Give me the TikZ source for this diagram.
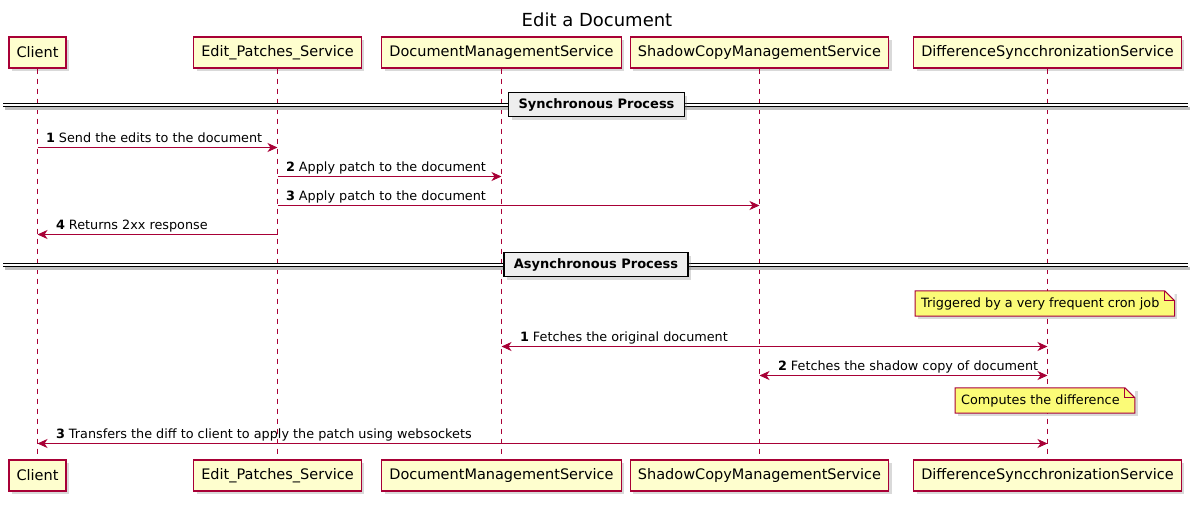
\documentclass[tikz,border=0pt]{standalone}
\usepackage{fontspec}
\setmainfont{DejaVu Sans}
\usetikzlibrary{arrows.meta,positioning,calc,shadows}

\begin{document}
\begin{tikzpicture}[
            x=1pt,y=-1pt,
            >={Stealth[length=10pt,width=9pt,inset=3pt]},
            participant/.style={draw=umlRed,fill=umlYellow,line width=1.2pt,inner xsep=7.5pt,
                minimum height=31pt,font=\fontsize{14.5}{16}\selectfont,
                drop shadow={shadow xshift=3pt,shadow yshift=-3pt,opacity=0.3}},
            lifeline/.style={draw=umlRed,dash pattern=on 5pt off 5pt,line width=1pt},
            msg/.style={umlRed,line width=1pt},
            msglabel/.style={font=\fontsize{12.8}{15}\selectfont,text=black,anchor=base west,
                inner sep=0pt,pos=0,yshift=5pt},
            sepline/.style={double,double distance=2pt,line width=1pt},
            sepshadow/.style={black!25,line width=2.5pt},
            sepbox/.style={draw,fill=sepGray,line width=1.6pt,inner xsep=10pt,minimum height=24pt,
                font=\fontsize{13}{15}\selectfont\bfseries,
                drop shadow={shadow xshift=3pt,shadow yshift=-3pt,opacity=0.3}},
            notebox/.style={fill=noteYellow,inner xsep=6pt,inner ysep=0pt,minimum height=25pt,
                font=\fontsize{12.8}{15}\selectfont,anchor=west,
                drop shadow={shadow xshift=3pt,shadow yshift=-3pt,opacity=0.3}},
            noteline/.style={umlRed,line width=1pt}
        ]

        % Define colors
        \definecolor{umlRed}{HTML}{A80036};
        \definecolor{umlYellow}{HTML}{FEFECE};
        \definecolor{noteYellow}{HTML}{FBFB77};
        \definecolor{sepGray}{HTML}{EEEEEE};

        \useasboundingbox (0,0) rectangle (1200,509);

        % Title
        \node[font=\fontsize{18}{20}\selectfont] (title) at (597,20) {Edit a Document};

        % Participants (top and bottom)
        \node[participant] (clientTop) at (37.5,52.5) {Client};
        \node[participant] (editTop) at (277.5,52.5) {Edit\_Patches\_Service};
        \node[participant] (docTop) at (501.5,52.5) {DocumentManagementService};
        \node[participant] (shadowTop) at (759.5,52.5) {ShadowCopyManagementService};
        \node[participant] (diffTop) at (1047.5,52.5) {DifferenceSyncchronizationService};

        \node[participant] (clientBot) at (37.5,475.5) {Client};
        \node[participant] (editBot) at (277.5,475.5) {Edit\_Patches\_Service};
        \node[participant] (docBot) at (501.5,475.5) {DocumentManagementService};
        \node[participant] (shadowBot) at (759.5,475.5) {ShadowCopyManagementService};
        \node[participant] (diffBot) at (1047.5,475.5) {DifferenceSyncchronizationService};

        % Draw lifelines
        \draw[lifeline] (clientTop) -- (clientBot);
        \draw[lifeline] (editTop) -- (editBot);
        \draw[lifeline] (docTop) -- (docBot);
        \draw[lifeline] (shadowTop) -- (shadowBot);
        \draw[lifeline] (diffTop) -- (diffBot);

        % Separators
        \coordinate (leftEdge) at (3,0);
        \coordinate (rightEdge) at (1188,0);
        \coordinate (syncY) at (0,105);
        \coordinate (asyncY) at (0,265);

        \draw[sepshadow] ($(leftEdge |- syncY)+(2,3.5)$) -- ($(rightEdge |- syncY)+(2,3.5)$);
        \draw[sepline] (leftEdge |- syncY) -- (rightEdge |- syncY);
        \node[sepbox] (syncSep) at (596.5,104.5) {Synchronous Process};

        \draw[sepshadow] ($(leftEdge |- asyncY)+(2,3.5)$) -- ($(rightEdge |- asyncY)+(2,3.5)$);
        \draw[sepline] (leftEdge |- asyncY) -- (rightEdge |- asyncY);
        \node[sepbox] (asyncSep) at (596,264.5) {Asynchronous Process};

        % Message rows
        \coordinate (m1) at (0,147.5);
        \coordinate (m2) at (0,176.5);
        \coordinate (m3) at (0,205.5);
        \coordinate (m4) at (0,234.5);
        \coordinate (a1) at (0,346.5);
        \coordinate (a2) at (0,375.5);
        \coordinate (a3) at (0,443.5);

        % Synchronous messages
        \draw[msg,->] (clientTop |- m1) -- (editTop |- m1)
            node[msglabel,xshift=8pt] {\textbf{1} Send the edits to the document};
        \draw[msg,->] (editTop |- m2) -- (docTop |- m2)
            node[msglabel,xshift=8pt] {\textbf{2} Apply patch to the document};
        \draw[msg,->] (editTop |- m3) -- (shadowTop |- m3)
            node[msglabel,xshift=8pt] {\textbf{3} Apply patch to the document};
        \draw[msg,<-] (clientTop |- m4) -- (editTop |- m4)
            node[msglabel,xshift=18pt] {\textbf{4} Returns 2xx response};

        % Notes
        \node[notebox] (cronNote) at (915,303.5) {Triggered by a very frequent cron job\kern9pt};
        \fill[white] ($(cronNote.north east)+(-10,0)$) -- (cronNote.north east) -- ($(cronNote.north east)+(0,10)$) -- cycle;
        \draw[noteline] (cronNote.north west) -- ($(cronNote.north east)+(-10,0)$) -- ($(cronNote.north east)+(0,10)$)
            -- (cronNote.south east) -- (cronNote.south west) -- cycle;
        \draw[noteline] ($(cronNote.north east)+(-10,0)$) -- ($(cronNote.north east)+(-10,10)$) -- ($(cronNote.north east)+(0,10)$);

        \node[notebox] (diffNote) at (955,400.5) {Computes the difference\kern9pt};
        \fill[white] ($(diffNote.north east)+(-10,0)$) -- (diffNote.north east) -- ($(diffNote.north east)+(0,10)$) -- cycle;
        \draw[noteline] (diffNote.north west) -- ($(diffNote.north east)+(-10,0)$) -- ($(diffNote.north east)+(0,10)$)
            -- (diffNote.south east) -- (diffNote.south west) -- cycle;
        \draw[noteline] ($(diffNote.north east)+(-10,0)$) -- ($(diffNote.north east)+(-10,10)$) -- ($(diffNote.north east)+(0,10)$);

        % Asynchronous messages
        \draw[msg,<->] (docTop |- a1) -- (diffTop |- a1)
            node[msglabel,xshift=18pt] {\textbf{1} Fetches the original document};
        \draw[msg,<->] (shadowTop |- a2) -- (diffTop |- a2)
            node[msglabel,xshift=18pt] {\textbf{2} Fetches the shadow copy of document};
        \draw[msg,<->] (clientTop |- a3) -- (diffTop |- a3)
            node[msglabel,xshift=18pt] {\textbf{3} Transfers the diff to client to apply the patch using websockets};

\end{tikzpicture}
\end{document}
